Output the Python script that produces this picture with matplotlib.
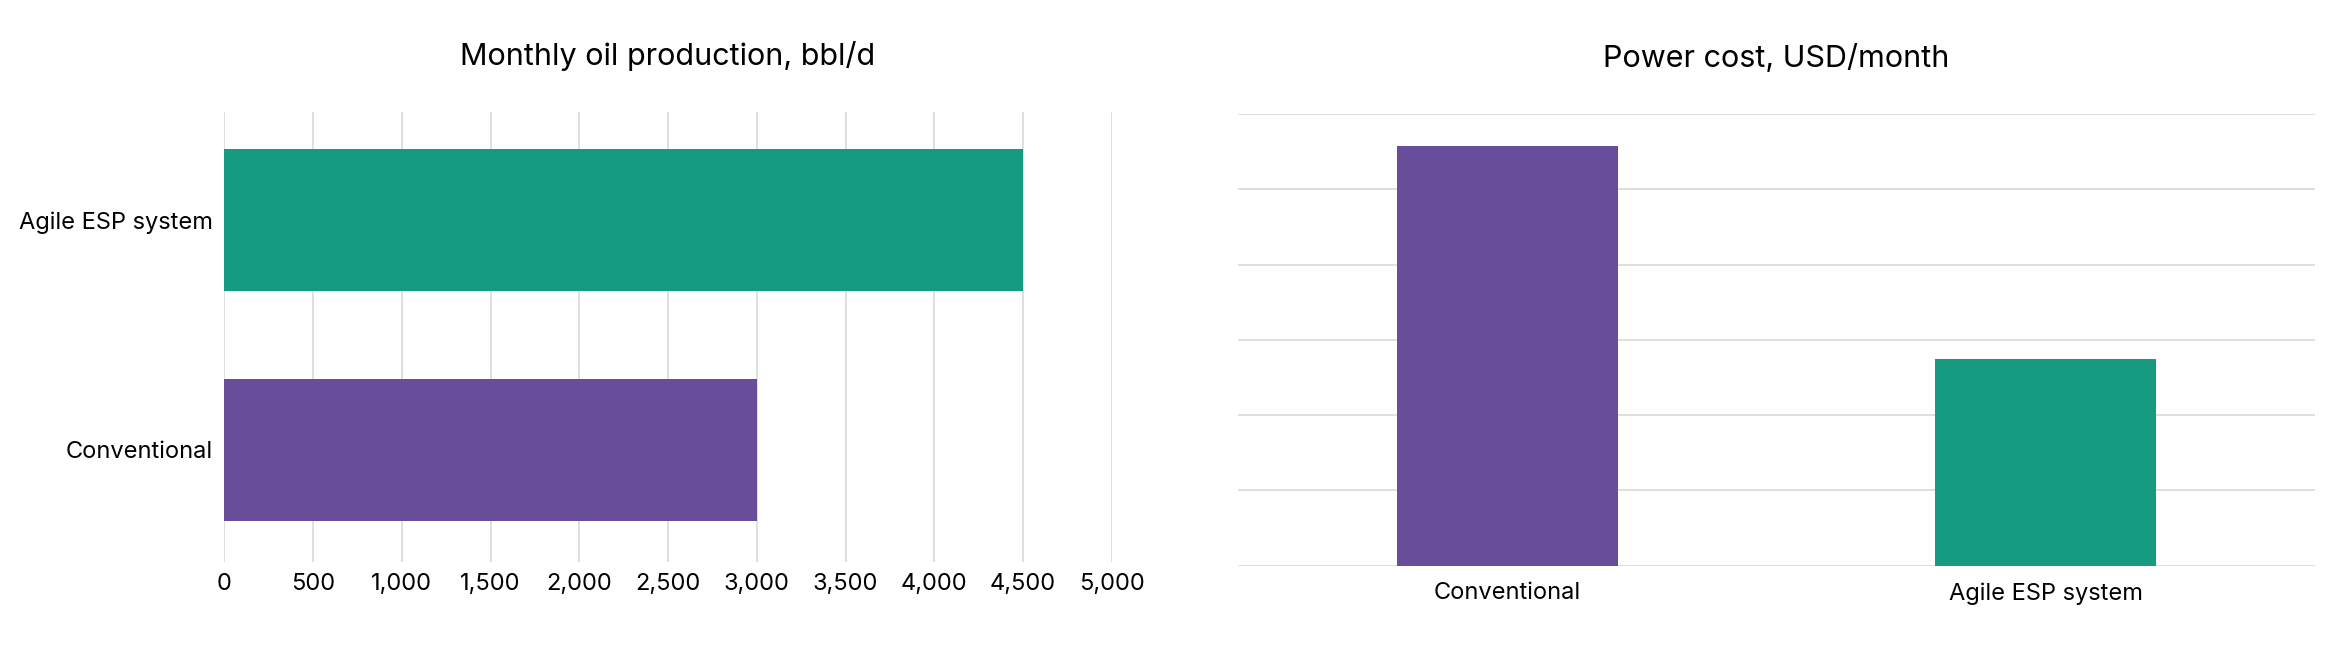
import matplotlib.pyplot as plt
from matplotlib.ticker import FuncFormatter

plt.rcParams["font.family"] = "Inter"

# data
prod_labels = ["Conventional", "Agile ESP system"]
prod_values = [3000, 4500]
cost_labels = ["Conventional", "Agile ESP system"]
cost_values = [5.58, 2.75]   # relative, axis has no labels
x_ticks = [0, 500, 1000, 1500, 2000, 2500, 3000, 3500, 4000, 4500, 5000]

purple = "#684D9B"
green = "#169B80"
grid_c = "#D9D9D9"

fig = plt.figure(figsize=(23.36, 6.6), dpi=100)

# left: horizontal bars
ax1 = fig.add_axes([0.096, 0.148, 0.38, 0.682])
ax1.barh(range(len(prod_labels)), prod_values, height=0.62, color=[purple, green])
ax1.set_xlim(0, 5000)
ax1.set_ylim(-0.49, 1.47)
ax1.set_xticks(x_ticks)
ax1.xaxis.set_major_formatter(FuncFormatter(lambda v, p: f"{int(v):,}"))
ax1.set_yticks(range(len(prod_labels)))
ax1.set_yticklabels(prod_labels)
ax1.grid(axis="x", color=grid_c, linewidth=1.2)
ax1.set_axisbelow(True)
for s in ax1.spines.values():
    s.set_visible(False)
ax1.tick_params(length=0, labelsize=17, pad=8)
ax1.set_title("Monthly oil production, bbl/d", fontsize=22, pad=34)

# right: vertical bars
ax2 = fig.add_axes([0.53, 0.143, 0.461, 0.684])
ax2.bar(range(len(cost_labels)), cost_values, width=0.41, color=[purple, green])
ax2.set_xlim(-0.5, 1.5)
ax2.set_ylim(0, 6)
ax2.set_yticks(range(7))
ax2.set_yticklabels([])
ax2.set_xticks(range(len(cost_labels)))
ax2.set_xticklabels(cost_labels)
ax2.grid(axis="y", color=grid_c, linewidth=1.2)
ax2.set_axisbelow(True)
for s in ax2.spines.values():
    s.set_visible(False)
ax2.tick_params(length=0, labelsize=17, pad=12)
ax2.set_title("Power cost, USD/month", fontsize=22, pad=34)

fig.savefig("out.png", dpi=100)
